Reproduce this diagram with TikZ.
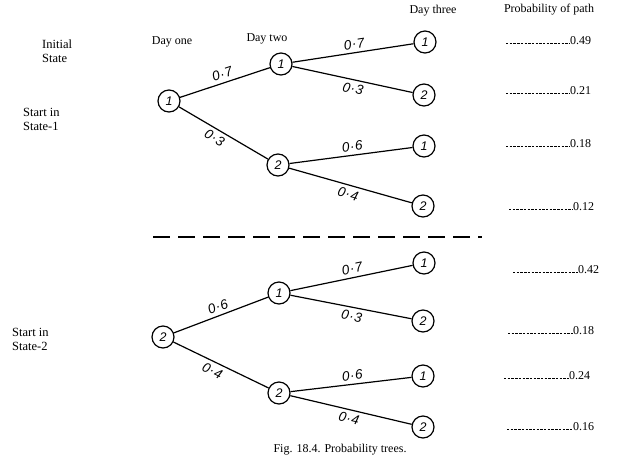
\documentclass[tikz,border=0pt]{standalone}
\usepackage{fontspec}
\setmainfont{Liberation Serif}
\newfontfamily\handfont{Liberation Sans}
\newcommand\pv[2]{#1\kern0.6pt·\kern0.6pt#2}
\begin{document}
\begin{tikzpicture}[x=1pt,y=-1pt,
  st/.style={circle,draw,line width=1.2pt,minimum size=22pt,inner sep=0pt,font=\handfont\itshape\fontsize{12.5}{12.5}\selectfont},
  br/.style={line width=1.2pt},
  pl/.style={font=\handfont\itshape\fontsize{13.5}{13.5}\selectfont,sloped,inner sep=3.5pt},
  tx/.style={font=\fontsize{12}{13}\selectfont,inner sep=0pt},
  lt/.style={font=\fontsize{12.5}{14}\selectfont,inner sep=0pt,align=left,anchor=north west},
  lead/.style={line width=0.75pt,dash pattern=on 2.4pt off 1.3pt}]
\useasboundingbox (0,0) rectangle (624,464);
% headings
\node[tx] (h1) at (172,42) {Day one};
\node[tx] (h2) at (267,39) {Day two};
\node[tx] (h3) at (433,11) {Day three};
\node[tx] (h4) at (549,10) {Probability of path};
\node[lt] (is) at (42,40) {Initial\\State};
\node[lt] (s1) at (23,108) {Start in\\State-1};
\node[lt] (s2) at (12,328) {Start in\\State-2};
% top tree
\node[st] (r1) at (169,101) {1};
\node[st] (a1) at (281,64) {1};
\node[st] (a2) at (278,165) {2};
\node[st] (b1) at (425,42) {1};
\node[st] (b2) at (424,95) {2};
\node[st] (b3) at (424,146) {1};
\node[st] (b4) at (423,206) {2};
\draw[br] (r1) -- node[pl,above] {\pv07} (a1);
\draw[br] (r1) -- node[pl,below,pos=0.45] {\pv03} (a2);
\draw[br] (a1) -- node[pl,above,pos=0.52] {\pv07} (b1);
\draw[br] (a1) -- node[pl,below,pos=0.52] {\pv03} (b2);
\draw[br] (a2) -- node[pl,above,pos=0.52] {\pv06} (b3);
\draw[br] (a2) -- node[pl,below,pos=0.5] {\pv04} (b4);
% separator
\coordinate (d1) at (153,237);
\coordinate (d2) at (482,237);
\draw[line width=1.3pt,dash pattern=on 17pt off 8pt] (d1) -- (d2);
% bottom tree
\node[st] (r2) at (163,337) {2};
\node[st] (c1) at (279,293) {1};
\node[st] (c2) at (279,393) {2};
\node[st] (e1) at (424,263) {1};
\node[st] (e2) at (423,321) {2};
\node[st] (e3) at (423,376) {1};
\node[st] (e4) at (423,427) {2};
\draw[br] (r2) -- node[pl,above] {\pv06} (c1);
\draw[br] (r2) -- node[pl,below,pos=0.45] {\pv04} (c2);
\draw[br] (c1) -- node[pl,above,pos=0.52] {\pv07} (e1);
\draw[br] (c1) -- node[pl,below,pos=0.52] {\pv03} (e2);
\draw[br] (c2) -- node[pl,above,pos=0.52] {\pv06} (e3);
\draw[br] (c2) -- node[pl,below,pos=0.5] {\pv04} (e4);
% probabilities
\foreach \n/\xs/\xn/\yy/\v in {p1/506/570/41/0.49, p2/506/570/91/0.21, p3/506/570/144/0.18, p4/509/573/207/0.12, p5/513/578/270/0.42, p6/508/573/331/0.18, p7/504/569/376/0.24, p8/507/573/427/0.16}{
  \node[tx,anchor=west] (\n) at (\xn,\yy) {\v};
  \coordinate (\n s) at (\xs,\yy+2);
  \draw[lead] (\n s) -- (\n.west |- \n s);
}
\node[tx] (cap) at (340,450) {Fig. 18.4. Probability trees.};
\end{tikzpicture}
\end{document}
